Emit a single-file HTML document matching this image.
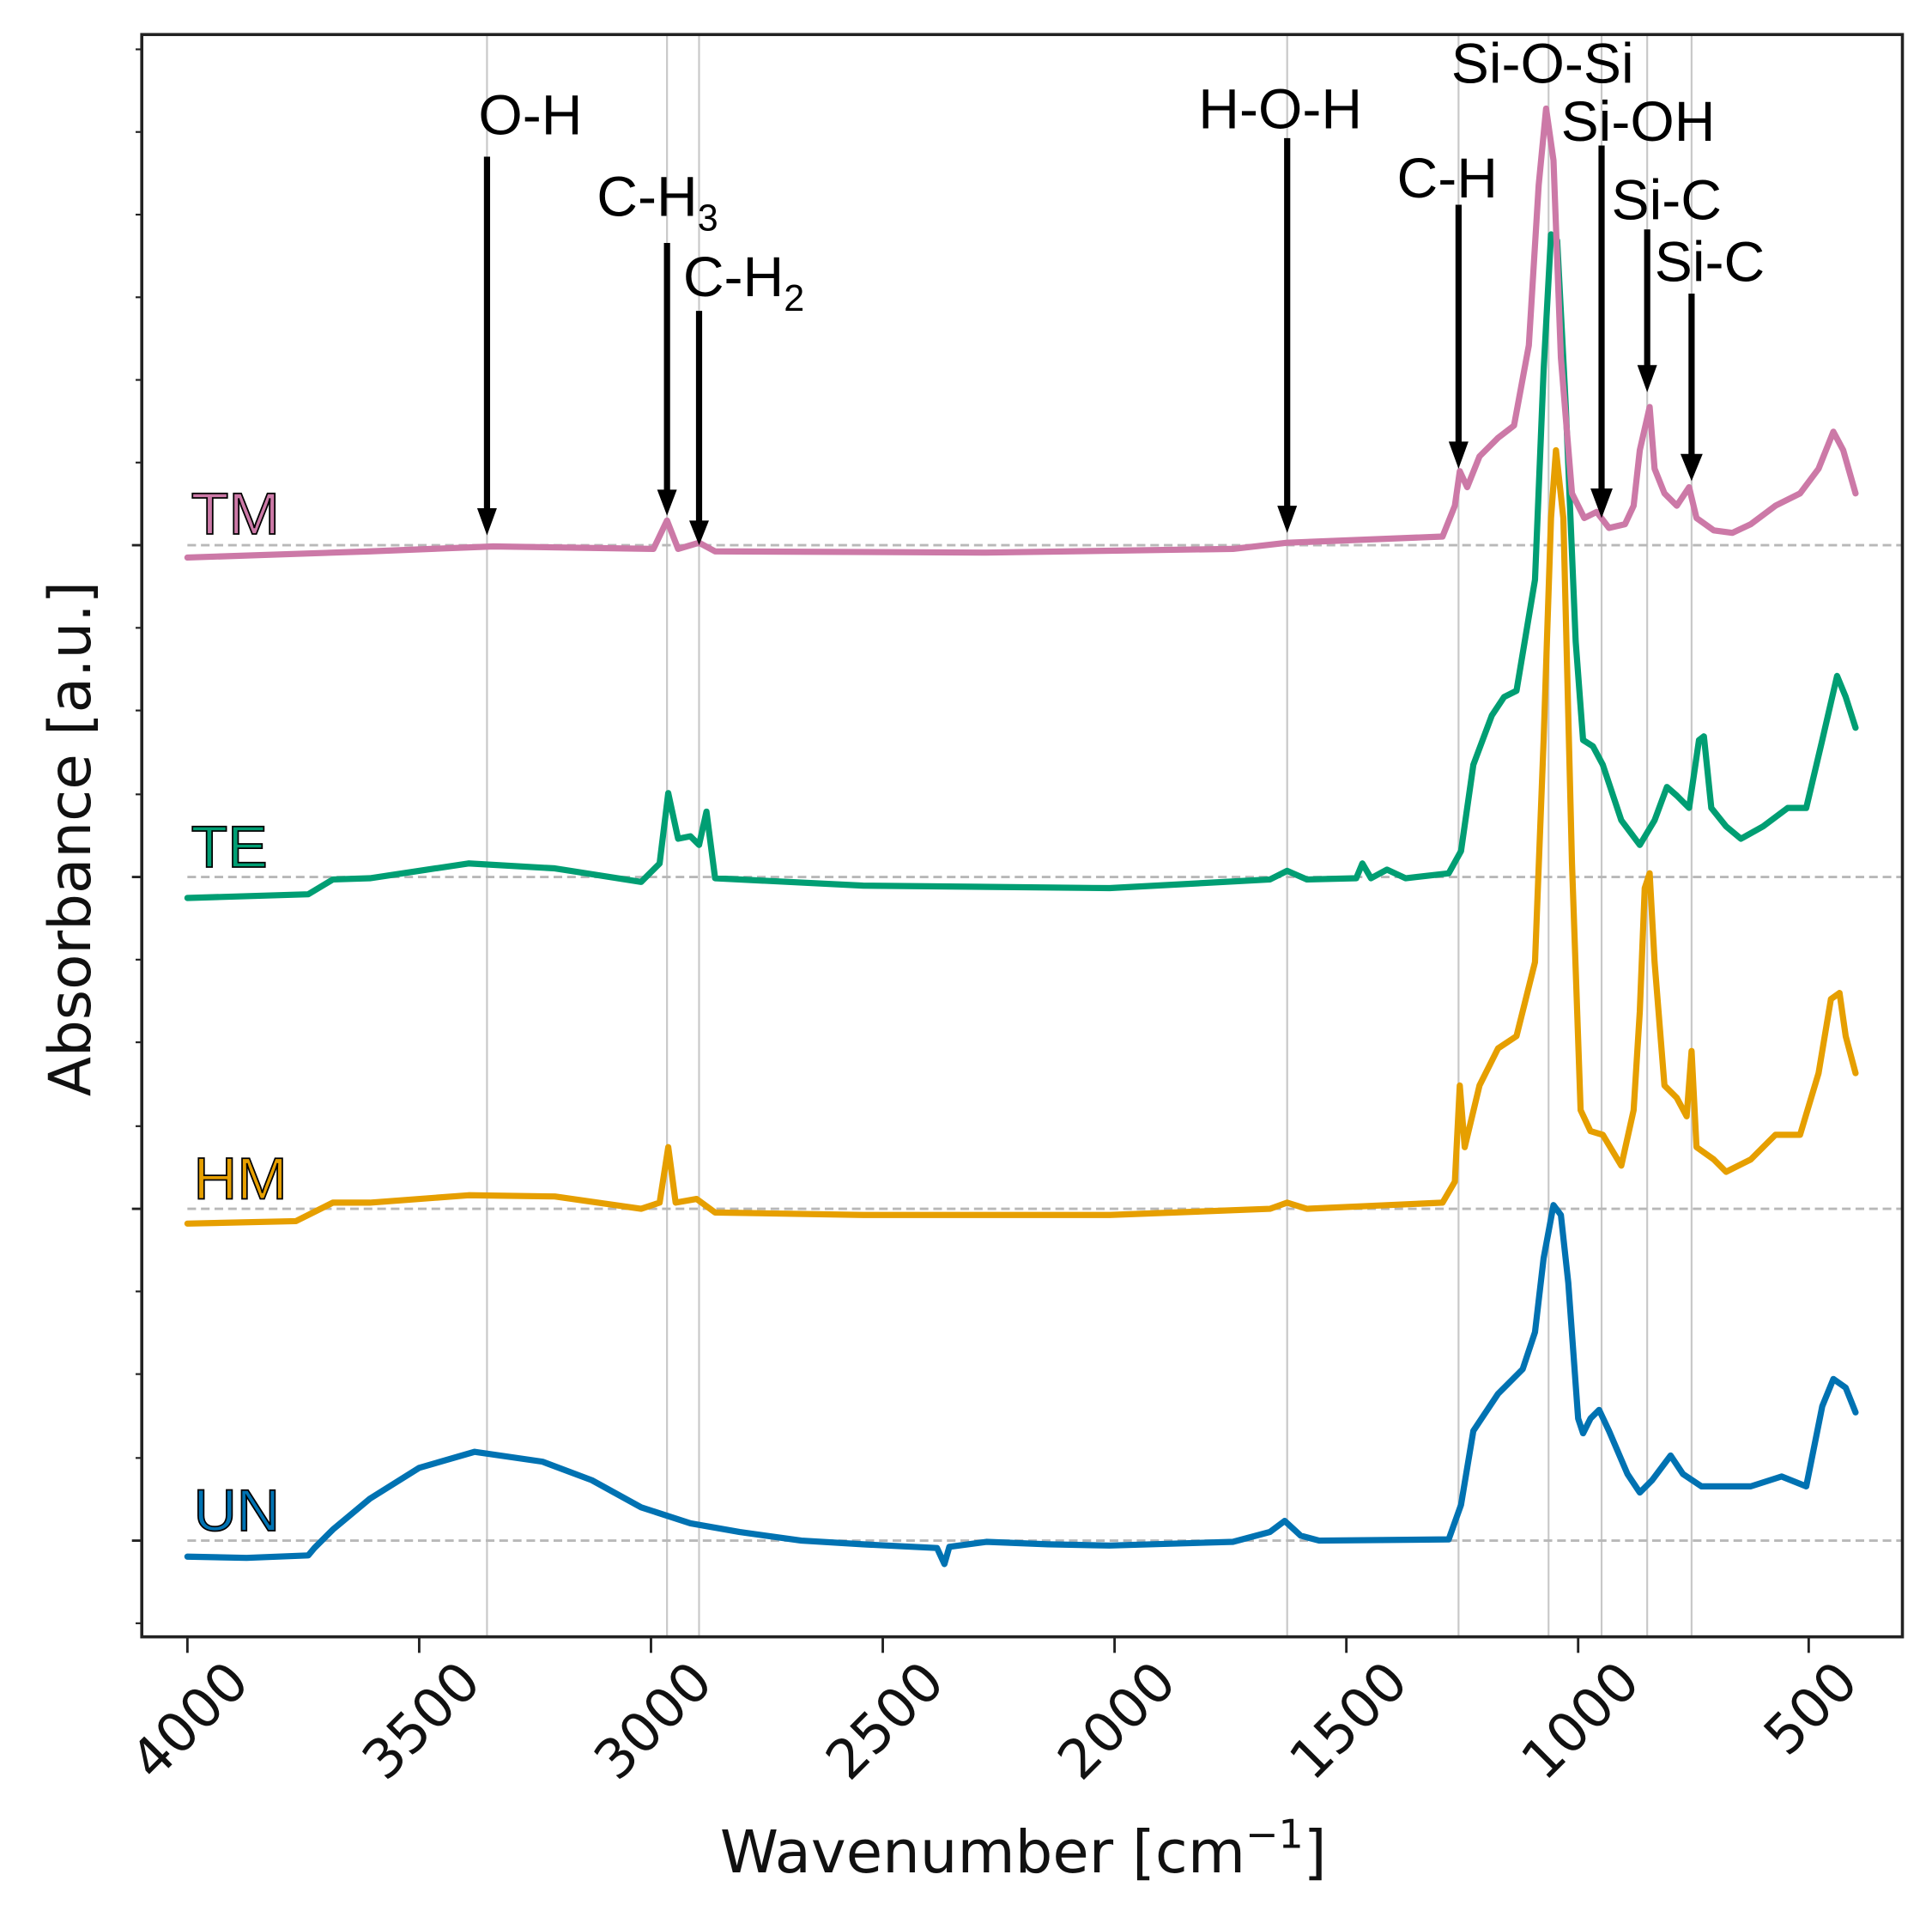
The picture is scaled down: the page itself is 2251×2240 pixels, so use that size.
<!DOCTYPE html>
<html><head><meta charset="utf-8"><style>html,body{margin:0;padding:0;background:#fff}svg{display:block}</style></head>
<body>
<svg width="2251" height="2240" viewBox="0 0 1567 1559" preserveAspectRatio="none" xmlns="http://www.w3.org/2000/svg" font-family="'DejaVu Sans','Liberation Sans',sans-serif">
<rect width="1567" height="1559" fill="#fff"/>
<g stroke="#c8c8c8" stroke-width="1.5">
<line x1="395" y1="28" x2="395" y2="1327"/><line x1="541" y1="28" x2="541" y2="1327"/><line x1="567" y1="28" x2="567" y2="1327"/>
<line x1="1044" y1="28" x2="1044" y2="1327"/><line x1="1183" y1="28" x2="1183" y2="1327"/><line x1="1256" y1="28" x2="1256" y2="1327"/>
<line x1="1299" y1="28" x2="1299" y2="1327"/><line x1="1336" y1="28" x2="1336" y2="1327"/><line x1="1372" y1="28" x2="1372" y2="1327"/>
</g>
<g stroke="#b8b8b8" stroke-width="2" stroke-dasharray="7,4">
<line x1="152" y1="442" x2="1543" y2="442"/><line x1="152" y1="711" x2="1543" y2="711"/>
<line x1="152" y1="980" x2="1543" y2="980"/><line x1="152" y1="1249" x2="1543" y2="1249"/>
</g>
<g fill="none" stroke-width="5" stroke-linejoin="round" stroke-linecap="round">
<polyline stroke="#0072b2" points="152,1262 200,1263 250,1261 255,1255 270,1240 300,1215 340,1190 385,1177 440,1185 480,1200 520,1222 560,1235 600,1242 650,1249 700,1252 760,1255 766,1268 770,1254 800,1250 850,1252 900,1253 1000,1250 1030,1242 1042,1233 1055,1245 1070,1249 1175,1248 1185,1220 1195,1160 1215,1130 1235,1110 1245,1080 1252,1020 1260,977 1266,985 1272,1040 1280,1150 1284,1162 1290,1150 1297,1143 1305,1160 1320,1195 1330,1210 1340,1200 1355,1180 1365,1195 1380,1205 1420,1205 1445,1197 1465,1205 1478,1140 1487,1118 1497,1125 1505,1145"/>
<polyline stroke="#e69f00" points="152,992 240,990 270,975 300,975 380,969 450,970 520,980 535,975 542,930 548,975 565,972 580,983 700,985 900,985 1030,980 1044,975 1060,980 1170,975 1180,958 1184,880 1188,930 1200,880 1215,850 1230,840 1245,780 1252,600 1258,420 1262,365 1268,420 1275,700 1282,900 1290,917 1300,920 1315,945 1325,900 1330,820 1334,720 1338,708 1342,780 1350,880 1360,890 1368,905 1372,852 1376,930 1390,940 1400,950 1420,940 1440,920 1460,920 1475,870 1485,810 1492,805 1497,840 1505,870"/>
<polyline stroke="#009e73" points="152,728 250,725 270,713 300,712 380,700 450,704 520,715 535,700 542,643 550,680 560,678 567,685 573,658 580,712 700,718 900,720 1030,713 1044,706 1060,713 1100,712 1105,700 1112,712 1125,705 1140,712 1175,708 1185,690 1195,620 1210,580 1220,565 1230,560 1245,470 1252,300 1258,190 1263,195 1270,330 1278,520 1284,600 1292,605 1300,620 1315,665 1330,685 1342,665 1352,638 1360,645 1370,655 1378,600 1382,597 1388,655 1400,670 1412,680 1430,670 1450,655 1465,655 1478,600 1490,548 1497,565 1505,590"/>
<polyline stroke="#cc79a7" points="152,452 300,447 400,443 530,445 541,422 550,445 567,440 580,447 800,448 1000,445 1044,440 1170,435 1180,410 1184,382 1190,395 1200,370 1215,355 1228,345 1240,280 1248,150 1254,88 1260,130 1266,290 1275,400 1285,420 1295,415 1305,428 1318,425 1325,410 1330,365 1338,330 1342,380 1350,400 1360,410 1370,395 1376,420 1390,430 1405,432 1420,425 1440,410 1460,400 1475,380 1487,350 1495,365 1505,400"/>
</g>
<g stroke="#000" stroke-width="5">
<line x1="395" y1="127" x2="395" y2="415"/><line x1="541" y1="197" x2="541" y2="400"/><line x1="567" y1="252" x2="567" y2="425"/>
<line x1="1044" y1="112" x2="1044" y2="413"/><line x1="1183" y1="166" x2="1183" y2="362"/><line x1="1299" y1="118" x2="1299" y2="400"/>
<line x1="1336" y1="186" x2="1336" y2="300"/><line x1="1372" y1="238" x2="1372" y2="372"/>
</g>
<g fill="#000">
<polygon points="387,412 403,412 395,434"/><polygon points="533,397 549,397 541,418"/><polygon points="559,422 575,422 567,442"/>
<polygon points="1036,410 1052,410 1044,432"/><polygon points="1175,358 1191,358 1183,380"/><polygon points="1290,396 1308,396 1299,420"/>
<polygon points="1328,296 1344,296 1336,318"/><polygon points="1363,368 1381,368 1372,390"/>
</g>
<g font-size="46" fill="#000" font-family="'Liberation Sans',sans-serif">
<text x="388" y="109">O-H</text>
<text x="484" y="175">C-H<tspan font-size="30" dy="12">3</tspan></text>
<text x="554" y="240">C-H<tspan font-size="30" dy="12">2</tspan></text>
<text x="972" y="104">H-O-H</text>
<text x="1177" y="67">Si-O-Si</text>
<text x="1266" y="114">Si-OH</text>
<text x="1133" y="160">C-H</text>
<text x="1307" y="178">Si-C</text>
<text x="1342" y="228">Si-C</text>
</g>
<g font-size="48" stroke="#000" stroke-width="1.2" font-family="'Liberation Sans',sans-serif">
<text x="155" y="433" fill="#cc79a7" textLength="72" lengthAdjust="spacingAndGlyphs">TM</text>
<text x="155" y="703" fill="#009e73" textLength="62" lengthAdjust="spacingAndGlyphs">TE</text>
<text x="157" y="972" fill="#e69f00" textLength="76" lengthAdjust="spacingAndGlyphs">HM</text>
<text x="157" y="1241" fill="#0072b2" textLength="70" lengthAdjust="spacingAndGlyphs">UN</text>
</g>
<rect x="115" y="28" width="1428" height="1299" fill="none" stroke="#222" stroke-width="2.5"/>
<g stroke="#222" stroke-width="2">
<line x1="152" y1="1327" x2="152" y2="1340"/><line x1="340" y1="1327" x2="340" y2="1340"/><line x1="528" y1="1327" x2="528" y2="1340"/>
<line x1="716" y1="1327" x2="716" y2="1340"/><line x1="904" y1="1327" x2="904" y2="1340"/><line x1="1092" y1="1327" x2="1092" y2="1340"/>
<line x1="1280" y1="1327" x2="1280" y2="1340"/><line x1="1467" y1="1327" x2="1467" y2="1340"/>
<line x1="107" y1="442" x2="115" y2="442"/><line x1="107" y1="711" x2="115" y2="711"/><line x1="107" y1="980" x2="115" y2="980"/><line x1="107" y1="1249" x2="115" y2="1249"/>
</g>
<g stroke="#222" stroke-width="1.5">
<line x1="110" y1="40" x2="115" y2="40"/><line x1="110" y1="107" x2="115" y2="107"/><line x1="110" y1="174" x2="115" y2="174"/><line x1="110" y1="241" x2="115" y2="241"/><line x1="110" y1="308" x2="115" y2="308"/><line x1="110" y1="375" x2="115" y2="375"/>
<line x1="110" y1="509" x2="115" y2="509"/><line x1="110" y1="576" x2="115" y2="576"/><line x1="110" y1="644" x2="115" y2="644"/>
<line x1="110" y1="778" x2="115" y2="778"/><line x1="110" y1="845" x2="115" y2="845"/><line x1="110" y1="913" x2="115" y2="913"/>
<line x1="110" y1="1047" x2="115" y2="1047"/><line x1="110" y1="1114" x2="115" y2="1114"/><line x1="110" y1="1182" x2="115" y2="1182"/>
<line x1="110" y1="1316" x2="115" y2="1316"/>
</g>
<g font-size="44" fill="#111" text-anchor="end">
<text transform="translate(204,1366) rotate(-45)">4000</text>
<text transform="translate(392,1366) rotate(-45)">3500</text>
<text transform="translate(580,1366) rotate(-45)">3000</text>
<text transform="translate(768,1366) rotate(-45)">2500</text>
<text transform="translate(956,1366) rotate(-45)">2000</text>
<text transform="translate(1144,1366) rotate(-45)">1500</text>
<text transform="translate(1332,1366) rotate(-45)">1000</text>
<text transform="translate(1509,1366) rotate(-45)">500</text>
</g>
<text x="830" y="1518" font-size="48" text-anchor="middle" fill="#111">Wavenumber [cm<tspan font-size="32" dy="-20">−1</tspan><tspan dy="20">]</tspan></text>
<text transform="translate(73,680) rotate(-90)" font-size="47" text-anchor="middle" fill="#111">Absorbance [a.u.]</text>
</svg>
</body></html>
